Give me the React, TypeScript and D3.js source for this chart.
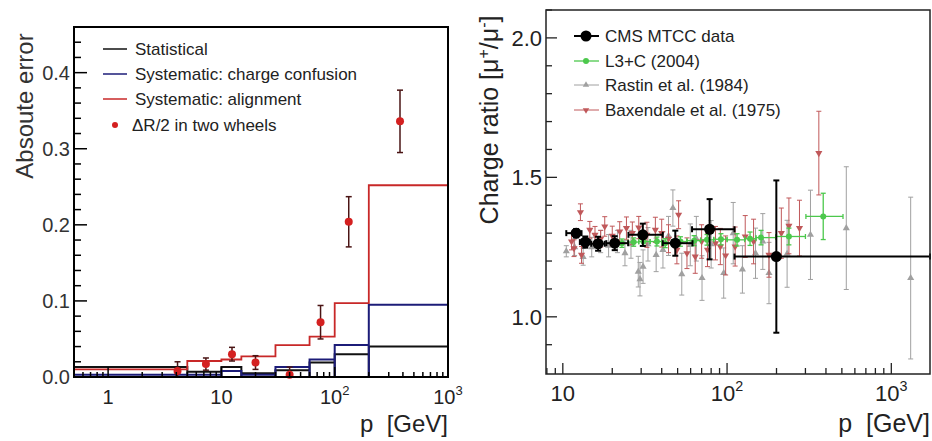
import { scaleLog, scaleLinear, symbol, symbolTriangle } from "d3";

// left panel: error budget per momentum bin
const binEdges = [0.5, 5, 10, 15, 30, 60, 100, 200, 1000];
const statErr = [0.013, 0.007, 0.013, 0.005, 0.009, 0.019, 0.03, 0.04];
const chargeConf = [0.003, 0.003, 0.008, 0.003, 0.013, 0.023, 0.042, 0.095];
const alignErr = [0.01, 0.021, 0.023, 0.027, 0.042, 0.053, 0.097, 0.252];
const wheelP = [4.1, 7.3, 12.4, 20, 40, 75, 133, 377];
const wheelDR = [0.008, 0.017, 0.03, 0.019, 0.003, 0.072, 0.204, 0.336];
const wheelErr = [0.012, 0.008, 0.009, 0.009, 0.01, 0.022, 0.033, 0.041];
const leftYTicks = [0, 0.1, 0.2, 0.3, 0.4];

// right panel: charge ratio measurements
const cmsP = [12.05, 13.7, 16.4, 20.7, 30.7, 48.4, 78.3, 199.5];
const cmsR = [1.3, 1.268, 1.262, 1.264, 1.294, 1.264, 1.314, 1.216];
const cmsErr = [0.015, 0.02, 0.025, 0.025, 0.04, 0.045, 0.108, 0.273];
const cmsPLo = [10.5, 12.7, 14.9, 18.4, 25.1, 40.6, 61.2, 111];
const cmsPHi = [13, 14.6, 18, 25, 40.6, 61.6, 111, 1800];

const l3P = [22.9, 27, 31, 37.4, 42, 52, 63, 75.5, 91.8, 115, 138, 161, 238, 385];
const l3R = [1.264, 1.268, 1.27, 1.27, 1.264, 1.27, 1.273, 1.276, 1.278, 1.276, 1.28, 1.284, 1.288, 1.36];
const l3Err = [0.015, 0.015, 0.015, 0.016, 0.016, 0.017, 0.018, 0.019, 0.02, 0.022, 0.024, 0.026, 0.03, 0.083];
const l3PLo = [20, 25, 29, 34, 40, 46, 57, 69, 83, 100, 128, 150, 198, 302];
const l3PHi = [25, 29, 34, 40, 46, 57, 69, 83, 100, 128, 150, 198, 300, 508];

const rastinP = [10.5, 11.8, 13.3, 15, 17, 19, 21.5, 23.9, 26, 28.8, 29.5, 30.8, 33, 37, 40.7, 44, 46.8, 53, 59.7, 65, 70.4, 80, 95.4, 109, 124, 149, 165, 180, 232, 322, 532, 1312];
const rastinR = [1.235, 1.25, 1.215, 1.25, 1.27, 1.255, 1.27, 1.228, 1.26, 1.162, 1.135, 1.18, 1.26, 1.222, 1.24, 1.29, 1.39, 1.153, 1.258, 1.28, 1.139, 1.26, 1.157, 1.3, 1.17, 1.228, 1.27, 1.157, 1.226, 1.294, 1.318, 1.139];
const rastinErr = [0.02, 0.03, 0.03, 0.035, 0.04, 0.04, 0.04, 0.045, 0.05, 0.055, 0.06, 0.06, 0.06, 0.06, 0.065, 0.07, 0.065, 0.075, 0.075, 0.08, 0.08, 0.085, 0.09, 0.11, 0.085, 0.09, 0.1, 0.11, 0.12, 0.16, 0.22, 0.29];

const baxP = [11.3, 11.7, 12.8, 13, 14.6, 15.7, 17, 18, 20, 22.2, 24.4, 26.5, 29, 32.5, 36.6, 40, 44, 49.5, 50.7, 57, 64, 70, 76, 85, 91, 98, 112, 129, 145, 180, 214, 238, 276, 362];
const baxR = [1.27, 1.246, 1.375, 1.222, 1.312, 1.294, 1.28, 1.324, 1.29, 1.306, 1.318, 1.3, 1.32, 1.294, 1.312, 1.3, 1.28, 1.24, 1.366, 1.228, 1.216, 1.27, 1.24, 1.264, 1.252, 1.22, 1.252, 1.288, 1.27, 1.222, 1.3, 1.326, 1.318, 1.587];
const baxErr = [0.03, 0.03, 0.03, 0.03, 0.03, 0.03, 0.03, 0.035, 0.035, 0.035, 0.04, 0.04, 0.04, 0.045, 0.045, 0.05, 0.05, 0.05, 0.05, 0.055, 0.06, 0.06, 0.06, 0.06, 0.065, 0.07, 0.07, 0.075, 0.08, 0.08, 0.09, 0.1, 0.1, 0.15];
const rightYTicks = [1.0, 1.5, 2.0];

const FONT = "'Liberation Sans', Arial, sans-serif";
const BLACK = "#111";
const BLUE = "#1c1c78";
const RED = "#c82828";
const GREEN = "#4cc84c";
const GRAY = "#a0a0a0";
const SALMON = "#c0585a";

const isDecade = (v: number) => Math.abs(Math.log10(v) - Math.round(Math.log10(v))) < 1e-6;

function DecadeLabel({ x, y, v, size }: { x: number; y: number; v: number; size: number }) {
  const e = Math.round(Math.log10(v));
  if (e <= 1) {
    return (
      <text x={x} y={y} textAnchor="middle" fontSize={size} fill="#222">
        {String(v)}
      </text>
    );
  }
  return (
    <text x={x} y={y} textAnchor="middle" fontSize={size} fill="#222">
      10
      <tspan dy={-size * 0.45} fontSize={size * 0.65}>
        {e}
      </tspan>
    </text>
  );
}

function LeftPanel() {
  const L = 74, R = 448, T = 27, B = 377;
  const x = scaleLog().domain([0.5, 1000]).range([L, R]);
  const y = scaleLinear().domain([0, 0.46]).range([B, T]);
  const xTicks = x.ticks().filter((t) => t > 0.5 && t < 1000);
  const yMinor = scaleLinear().domain([0, 0.46]).ticks(23);

  const boxes = (vals: number[]) =>
    vals
      .map((v, i) => {
        const x0 = x(binEdges[i]), x1 = x(binEdges[i + 1]);
        return `M${x0},${B}V${y(v)}H${x1}V${B}`;
      })
      .join("");
  const step = (vals: number[]) =>
    vals
      .map((v, i) => `${i === 0 ? "M" : "L"}${x(binEdges[i])},${y(v)}H${x(binEdges[i + 1])}`)
      .join("") + `V${B}`;

  const legend = [
    { label: "Statistical", color: BLACK },
    { label: "Systematic: charge confusion", color: BLUE },
    { label: "Systematic: alignment", color: RED },
  ];
  const rows = [49, 74, 99, 125];

  return (
    <g fontFamily={FONT}>
      <path d={boxes(statErr)} fill="none" stroke={BLACK} strokeWidth={2} />
      <path d={boxes(chargeConf)} fill="none" stroke={BLUE} strokeWidth={2} />
      <path d={step(alignErr)} fill="none" stroke={RED} strokeWidth={1.8} />

      {wheelP.map((p, i) => (
        <g key={i}>
          <line x1={x(p)} x2={x(p)} y1={y(wheelDR[i] + wheelErr[i])} y2={Math.min(B, y(wheelDR[i] - wheelErr[i]))} stroke="#4a1414" strokeWidth={1.5} />
          <line x1={x(p) - 3} x2={x(p) + 3} y1={y(wheelDR[i] + wheelErr[i])} y2={y(wheelDR[i] + wheelErr[i])} stroke="#4a1414" strokeWidth={1.5} />
          <line x1={x(p) - 3} x2={x(p) + 3} y1={Math.min(B, y(wheelDR[i] - wheelErr[i]))} y2={Math.min(B, y(wheelDR[i] - wheelErr[i]))} stroke="#4a1414" strokeWidth={1.5} />
          <circle cx={x(p)} cy={y(wheelDR[i])} r={4} fill="#d42020" />
        </g>
      ))}

      {/* axes frame */}
      <rect x={L} y={T} width={R - L} height={B - T} fill="none" stroke="#000" strokeWidth={2} />
      {yMinor.map((t, i) => {
        const major = leftYTicks.some((m) => Math.abs(m - t) < 1e-9);
        return <line key={i} x1={L} x2={L + (major ? 13 : 7)} y1={y(t)} y2={y(t)} stroke="#000" strokeWidth={1.5} />;
      })}
      {leftYTicks.map((t) => (
        <text key={t} x={70} y={y(t)} dy="0.36em" textAnchor="end" fontSize={20} fill="#333">
          {t.toFixed(1)}
        </text>
      ))}
      {xTicks.map((t, i) => (
        <line key={i} x1={x(t)} x2={x(t)} y1={B} y2={B - (isDecade(t) ? 10 : 5)} stroke="#000" strokeWidth={1.5} />
      ))}
      {[1, 10, 100, 1000].map((t) => (
        <DecadeLabel key={t} x={x(t)} y={404} v={t} size={20} />
      ))}
      <text x={R} y={432} textAnchor="end" fontSize={24} fill="#222" style={{ whiteSpace: "pre" }}>
        {"p  [GeV]"}
      </text>
      <text transform={`translate(33,${(30 + 182) / 2}) rotate(-90)`} textAnchor="middle" fontSize={24} fill="#333">
        Absoute error
      </text>

      {/* legend */}
      {legend.map((l, i) => (
        <g key={l.label}>
          <line x1={103} x2={127} y1={rows[i]} y2={rows[i]} stroke={l.color} strokeWidth={1.5} />
          <text x={135} y={rows[i]} dy="0.36em" fontSize={17} fill="#222">
            {l.label}
          </text>
        </g>
      ))}
      <circle cx={115} cy={rows[3]} r={3} fill="#d42020" />
      <text x={132} y={rows[3]} dy="0.36em" fontSize={17} fill="#222">
        ΔR/2 in two wheels
      </text>
    </g>
  );
}

function ErrPoint({
  cx, cy, top, bot, left, right, cap, color, width,
}: {
  cx: number; cy: number; top: number; bot: number; left?: number; right?: number; cap: number; color: string; width: number;
}) {
  return (
    <g stroke={color} strokeWidth={width}>
      <line x1={cx} x2={cx} y1={top} y2={bot} />
      <line x1={cx - cap} x2={cx + cap} y1={top} y2={top} />
      <line x1={cx - cap} x2={cx + cap} y1={bot} y2={bot} />
      {left !== undefined && right !== undefined && (
        <>
          <line x1={left} x2={right} y1={cy} y2={cy} />
          <line x1={left} x2={left} y1={cy - cap} y2={cy + cap} />
          <line x1={right} x2={right} y1={cy - cap} y2={cy + cap} />
        </>
      )}
    </g>
  );
}

function RightPanel() {
  const L = 546, R = 930, T = 10, B = 374;
  const x = scaleLog().domain([7.9, 1720]).range([L, R]).clamp(true);
  const y = scaleLinear().domain([0.795, 2.1]).range([B, T]);
  const xTicks = x.ticks().filter((t) => t > 7.9 && t < 1720);
  const yMinor = y.ticks(13).filter((t) => t > 0.8);
  const tri = symbol(symbolTriangle).size(22)();
  const triSmall = symbol(symbolTriangle).size(18)();

  return (
    <g fontFamily={FONT}>
      {rastinP.map((p, i) => (
        <g key={"r" + i}>
          <ErrPoint cx={x(p)} cy={y(rastinR[i])} top={y(rastinR[i] + rastinErr[i])} bot={y(rastinR[i] - rastinErr[i])} cap={2.5} color={GRAY} width={1} />
          <path d={tri} transform={`translate(${x(p)},${y(rastinR[i])})`} fill={GRAY} />
        </g>
      ))}
      {baxP.map((p, i) => (
        <g key={"b" + i}>
          <ErrPoint cx={x(p)} cy={y(baxR[i])} top={y(baxR[i] + baxErr[i])} bot={y(baxR[i] - baxErr[i])} cap={2.5} color={SALMON} width={1} />
          <path d={tri} transform={`translate(${x(p)},${y(baxR[i])}) rotate(180)`} fill={SALMON} />
        </g>
      ))}
      {l3P.map((p, i) => (
        <g key={"l" + i}>
          <ErrPoint cx={x(p)} cy={y(l3R[i])} top={y(l3R[i] + l3Err[i])} bot={y(l3R[i] - l3Err[i])} left={x(l3PLo[i])} right={x(l3PHi[i])} cap={2.5} color={GREEN} width={1.3} />
          <circle cx={x(p)} cy={y(l3R[i])} r={3} fill={GREEN} />
        </g>
      ))}
      {cmsP.map((p, i) => (
        <g key={"c" + i}>
          <ErrPoint cx={x(p)} cy={y(cmsR[i])} top={y(cmsR[i] + cmsErr[i])} bot={y(cmsR[i] - cmsErr[i])} left={x(cmsPLo[i])} right={x(cmsPHi[i])} cap={3} color="#000" width={2} />
          <circle cx={x(p)} cy={y(cmsR[i])} r={5.5} fill="#000" />
        </g>
      ))}

      <rect x={L} y={T} width={R - L} height={B - T} fill="none" stroke="#222" strokeWidth={1.5} />
      {yMinor.map((t, i) => {
        const major = rightYTicks.some((m) => Math.abs(m - t) < 1e-9);
        return <line key={i} x1={L} x2={L + (major ? 11 : 6)} y1={y(t)} y2={y(t)} stroke="#222" strokeWidth={1.3} />;
      })}
      {rightYTicks.map((t) => (
        <text key={t} x={542} y={y(t)} dy="0.36em" textAnchor="end" fontSize={22} fill="#222">
          {t.toFixed(1)}
        </text>
      ))}
      {xTicks.map((t, i) => (
        <line key={i} x1={x(t)} x2={x(t)} y1={B} y2={B - (isDecade(t) ? 11 : 6)} stroke="#222" strokeWidth={1.3} />
      ))}
      {[10, 100, 1000].map((t) => (
        <DecadeLabel key={t} x={x(t)} y={401} v={t} size={22} />
      ))}
      <text x={R} y={432} textAnchor="end" fontSize={25} fill="#222" style={{ whiteSpace: "pre" }}>
        {"p  [GeV]"}
      </text>
      <text transform="translate(498,120) rotate(-90)" textAnchor="middle" fontSize={25} fill="#222">
        Charge ratio [μ
        <tspan dy={-9} fontSize={16}>+</tspan>
        <tspan dy={9}>/μ</tspan>
        <tspan dy={-9} fontSize={16}>-</tspan>
        <tspan dy={9}>]</tspan>
      </text>

      {/* legend */}
      <line x1={574} x2={599} y1={36} y2={36} stroke="#000" strokeWidth={2} />
      <circle cx={586} cy={36} r={5.5} fill="#000" />
      <text x={605} y={36} dy="0.36em" fontSize={17} fill="#222">CMS MTCC data</text>
      <line x1={574} x2={599} y1={61} y2={61} stroke={GREEN} strokeWidth={1.3} />
      <circle cx={586} cy={61} r={3} fill={GREEN} />
      <text x={605} y={61} dy="0.36em" fontSize={17} fill="#222">L3+C (2004)</text>
      <line x1={574} x2={599} y1={85} y2={85} stroke={GRAY} strokeWidth={1} />
      <path d={triSmall} transform="translate(586,85)" fill={GRAY} />
      <text x={605} y={85} dy="0.36em" fontSize={17} fill="#222">Rastin et al. (1984)</text>
      <line x1={574} x2={599} y1={110} y2={110} stroke={SALMON} strokeWidth={1} />
      <path d={triSmall} transform="translate(586,110) rotate(180)" fill={SALMON} />
      <text x={605} y={110} dy="0.36em" fontSize={17} fill="#222">Baxendale et al. (1975)</text>
    </g>
  );
}

export default function App() {
  return (
    <svg
      width={932}
      height={441}
      viewBox="0 0 932 441"
      style={{ position: "absolute", left: 0, top: 0, display: "block", background: "#fff" }}
    >
      <rect width={932} height={441} fill="#fff" />
      <LeftPanel />
      <RightPanel />
    </svg>
  );
}
